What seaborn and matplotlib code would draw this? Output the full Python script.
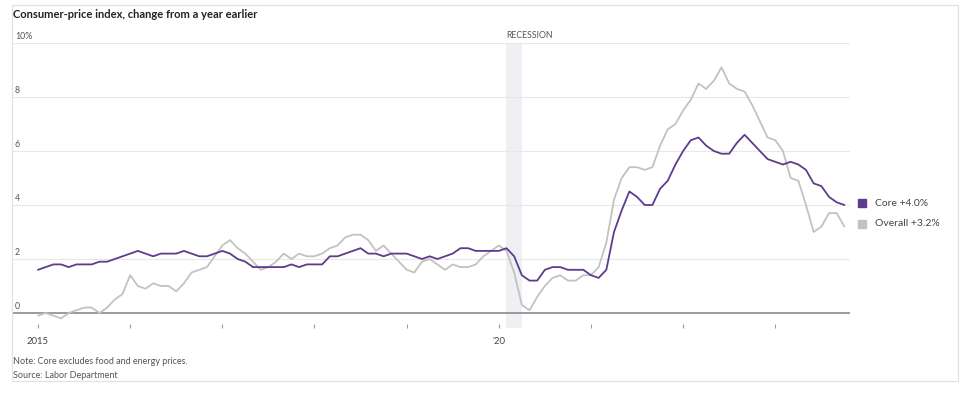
import matplotlib
matplotlib.use("Agg")
import matplotlib.pyplot as plt
from matplotlib.patches import Rectangle
import matplotlib.transforms as mtransforms
import numpy as np
import pandas as pd
import seaborn as sns

# monthly year-over-year change, Jan 2015 .. Oct 2023
core = [1.6, 1.7, 1.8, 1.8, 1.7, 1.8, 1.8, 1.8, 1.9, 1.9, 2.0, 2.1,
        2.2, 2.3, 2.2, 2.1, 2.2, 2.2, 2.2, 2.3, 2.2, 2.1, 2.1, 2.2,
        2.3, 2.2, 2.0, 1.9, 1.7, 1.7, 1.7, 1.7, 1.7, 1.8, 1.7, 1.8,
        1.8, 1.8, 2.1, 2.1, 2.2, 2.3, 2.4, 2.2, 2.2, 2.1, 2.2, 2.2,
        2.2, 2.1, 2.0, 2.1, 2.0, 2.1, 2.2, 2.4, 2.4, 2.3, 2.3, 2.3,
        2.3, 2.4, 2.1, 1.4, 1.2, 1.2, 1.6, 1.7, 1.7, 1.6, 1.6, 1.6,
        1.4, 1.3, 1.6, 3.0, 3.8, 4.5, 4.3, 4.0, 4.0, 4.6, 4.9, 5.5,
        6.0, 6.4, 6.5, 6.2, 6.0, 5.9, 5.9, 6.3, 6.6, 6.3, 6.0, 5.7,
        5.6, 5.5, 5.6, 5.5, 5.3, 4.8, 4.7, 4.3, 4.1, 4.0]
overall = [-0.1, 0.0, -0.1, -0.2, 0.0, 0.1, 0.2, 0.2, 0.0, 0.2, 0.5, 0.7,
           1.4, 1.0, 0.9, 1.1, 1.0, 1.0, 0.8, 1.1, 1.5, 1.6, 1.7, 2.1,
           2.5, 2.7, 2.4, 2.2, 1.9, 1.6, 1.7, 1.9, 2.2, 2.0, 2.2, 2.1,
           2.1, 2.2, 2.4, 2.5, 2.8, 2.9, 2.9, 2.7, 2.3, 2.5, 2.2, 1.9,
           1.6, 1.5, 1.9, 2.0, 1.8, 1.6, 1.8, 1.7, 1.7, 1.8, 2.1, 2.3,
           2.5, 2.3, 1.5, 0.3, 0.1, 0.6, 1.0, 1.3, 1.4, 1.2, 1.2, 1.4,
           1.4, 1.7, 2.6, 4.2, 5.0, 5.4, 5.4, 5.3, 5.4, 6.2, 6.8, 7.0,
           7.5, 7.9, 8.5, 8.3, 8.6, 9.1, 8.5, 8.3, 8.2, 7.7, 7.1, 6.5,
           6.4, 6.0, 5.0, 4.9, 4.0, 3.0, 3.2, 3.7, 3.7, 3.2]
series_names = ["Core +4.0%", "Overall +3.2%"]
year_ticks = [0, 12, 24, 36, 48, 60, 72, 84, 96]
year_labels = ["2015", "", "", "", "", "'20", "", "", ""]
y_ticks = [0, 2, 4, 6, 8, 10]
y_labels = ["0", "2", "4", "6", "8", "10%"]
recession = (61, 63)  # Feb-Apr 2020

months = np.arange(len(core))
df = pd.DataFrame({
    "month": np.concatenate([months, months]),
    "value": core + overall,
    "series": [series_names[0]] * len(core) + [series_names[1]] * len(overall),
})

sns.set_style("white")
plt.rcParams["font.family"] = ["Lato", "DejaVu Sans"]

W, H = 970, 403
fig = plt.figure(figsize=(W / 100, H / 100), dpi=100)
ax_l, ax_r, ax_t, ax_b = 12, 850, 43, 328
ax = fig.add_axes([ax_l / W, 1 - ax_b / H, (ax_r - ax_l) / W, (ax_b - ax_t) / H])

px_month = 7.68
px_unit = 27.0
ax.set_xlim((ax_l - 38) / px_month, (ax_r - 38) / px_month)
ax.set_ylim(-(ax_b - 313) / px_unit, 10)

purple = "#5e3c8c"
grey = "#c2c2c2"
colors = {series_names[0]: purple, series_names[1]: grey}

ax.axvspan(recession[0], recession[1], color="#eff0f3", zorder=0, lw=0)
ax.text(recession[0], 10.12, "RECESSION", fontsize=6.3, color="#555555",
        ha="left", va="bottom")

for t in y_ticks[1:]:
    ax.axhline(t, color="#e8e8e8", lw=0.8, zorder=1)
ax.axhline(0, color="#8a8a8a", lw=1.2, zorder=2)

# overall first so core sits on top
sns.lineplot(data=df, x="month", y="value", hue="series",
             palette=colors, hue_order=series_names[::-1],
             lw=1.3, legend=False, ax=ax, zorder=3)

trans = mtransforms.blended_transform_factory(ax.transAxes, ax.transData)
for t, lab in zip(y_ticks, y_labels):
    ax.text(3 / (ax_r - ax_l), t + 0.08, lab, transform=trans, fontsize=6.3,
            color="#555555", ha="left", va="bottom")

ax.set_xticks(year_ticks)
ax.set_xticklabels(year_labels, fontsize=6.8, color="#444444")
ax.tick_params(axis="x", bottom=True, direction="in", length=3.2, width=0.8,
               color="#999999", pad=6.5)
ax.set_yticks([])
ax.set_xlabel("")
ax.set_ylabel("")
for s in ax.spines.values():
    s.set_visible(False)
ax.patch.set_alpha(0)

# legend at right
for i, name in enumerate(series_names):
    y = 1 - (203 + 21 * i) / H
    fig.patches.append(Rectangle((858 / W, y - 4 / H), 8 / W, 8 / H,
                                 transform=fig.transFigure, color=colors[name]))
    fig.text(875 / W, y, name, fontsize=7.5, color="#444444", va="center", ha="left")

fig.text(13 / W, 1 - 14 / H, "Consumer-price index, change from a year earlier",
         fontsize=8.0, color="#222222", ha="left", va="center", fontweight="bold")
fig.text(13 / W, 1 - 362 / H, "Note: Core excludes food and energy prices.",
         fontsize=6.5, color="#555555", ha="left", va="center")
fig.text(13 / W, 1 - 376 / H, "Source: Labor Department",
         fontsize=6.5, color="#555555", ha="left", va="center")

fig.patches.append(Rectangle((12.5 / W, 1 - 381 / H), (958 - 12.5) / W, (381 - 5) / H,
                             transform=fig.transFigure, fill=False,
                             edgecolor="#dfe3e6", lw=0.9))

fig.savefig("out.png", dpi=100)
